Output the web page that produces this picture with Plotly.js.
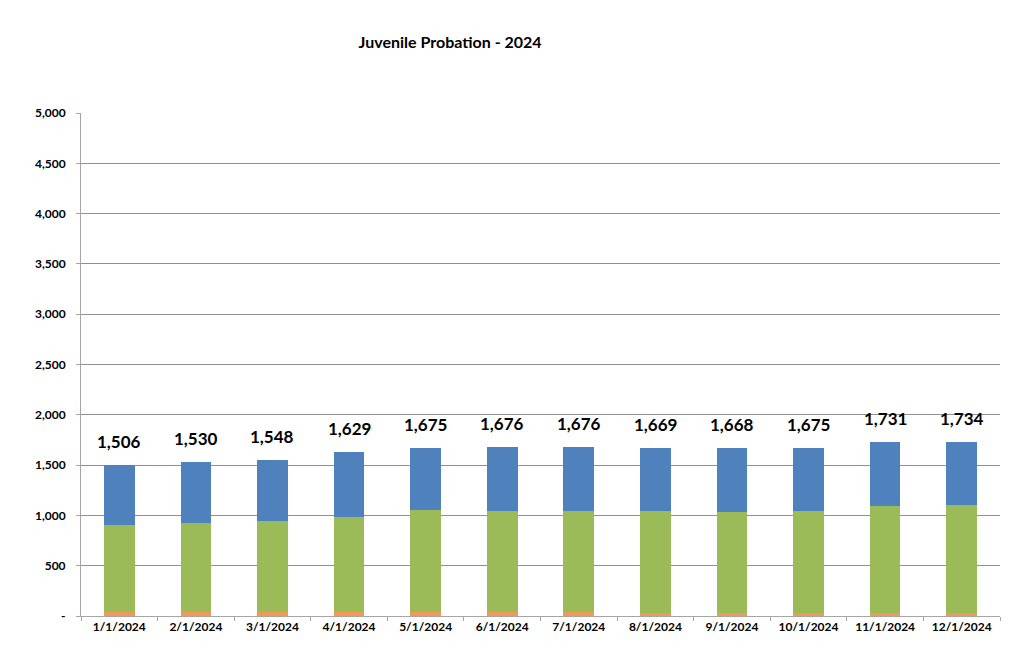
<!DOCTYPE html>
<html>
<head>
<meta charset="utf-8">
<script src="https://cdn.plot.ly/plotly-3.0.1.min.js"></script>
<style>
  html, body { margin: 0; padding: 0; background: #ffffff; }
  #chart { width: 1016px; height: 646px; }
</style>
</head>
<body>
<div id="chart"></div>
<script>
  const months = ['1/1/2024', '2/1/2024', '3/1/2024', '4/1/2024', '5/1/2024', '6/1/2024',
    '7/1/2024', '8/1/2024', '9/1/2024', '10/1/2024', '11/1/2024', '12/1/2024'];
  const totals = [1506, 1530, 1548, 1629, 1675, 1676, 1676, 1669, 1668, 1675, 1731, 1734];
  const orangePart = [38, 38, 38, 38, 38, 36, 36, 34, 32, 32, 32, 32];
  const greenPart = [867, 889, 906, 943, 1013, 1008, 1008, 1010, 1002, 1009, 1064, 1074];
  const bluePart = [601, 603, 604, 648, 624, 632, 632, 625, 634, 634, 635, 628];
  const yTickVals = [0, 500, 1000, 1500, 2000, 2500, 3000, 3500, 4000, 4500, 5000];
  const yTickText = ['-', '500', '1,000', '1,500', '2,000', '2,500', '3,000', '3,500', '4,000', '4,500', '5,000'];

  const COLORS = {
    orange: '#f09a55',
    green: '#9bbb59',
    blue: '#4f81bd',
    grid: '#909090',
    axis: '#a6a6a6',
    text: '#000000'
  };

  const FONT = 'Lato, "Open Sans", "Liberation Sans", sans-serif';

  const bar = (y, color) => ({
    type: 'bar',
    x: months,
    y: y,
    marker: { color: color, line: { width: 0 } },
    hoverinfo: 'x+y'
  });

  const traces = [
    bar(orangePart, COLORS.orange),
    bar(greenPart, COLORS.green),
    bar(bluePart, COLORS.blue)
  ];

  const annotations = months.map((m, i) => ({
    x: m,
    y: totals[i],
    xref: 'x',
    yref: 'y',
    text: totals[i].toLocaleString('en-US'),
    showarrow: false,
    yanchor: 'bottom',
    yshift: 11,
    font: { family: FONT, size: 17, color: COLORS.text, weight: 'bold' }
  }));

  const layout = {
    width: 1016,
    height: 646,
    margin: { l: 81, r: 16, t: 113, b: 30 },
    paper_bgcolor: '#ffffff',
    plot_bgcolor: '#ffffff',
    font: { family: FONT, size: 12, color: COLORS.text, weight: 'bold' },
    showlegend: false,
    barmode: 'stack',
    bargap: 0.6,
    title: {
      text: 'Juvenile Probation - 2024',
      xref: 'container',
      x: 0.443,
      xanchor: 'center',
      yref: 'container',
      y: 0.934,
      yanchor: 'middle',
      font: { family: FONT, size: 16, color: COLORS.text, weight: 'bold' }
    },
    xaxis: {
      type: 'category',
      showline: true,
      linecolor: COLORS.axis,
      linewidth: 1,
      ticks: 'outside',
      tickson: 'boundaries',
      ticklen: 4,
      tickcolor: COLORS.axis,
      showgrid: false,
      tickfont: { family: FONT, size: 12, color: COLORS.text, weight: 'bold' }
    },
    yaxis: {
      range: [0, 5000],
      tickvals: yTickVals,
      ticktext: yTickText,
      showline: true,
      linecolor: COLORS.axis,
      linewidth: 1,
      ticks: 'outside',
      ticklen: 4,
      tickcolor: COLORS.axis,
      ticklabelstandoff: 8,
      showgrid: true,
      gridcolor: COLORS.grid,
      gridwidth: 1,
      zeroline: false,
      tickfont: { family: FONT, size: 12, color: COLORS.text, weight: 'bold' }
    },
    annotations: annotations
  };

  Plotly.newPlot('chart', traces, layout, { displayModeBar: false, staticPlot: true });
</script>
</body>
</html>
